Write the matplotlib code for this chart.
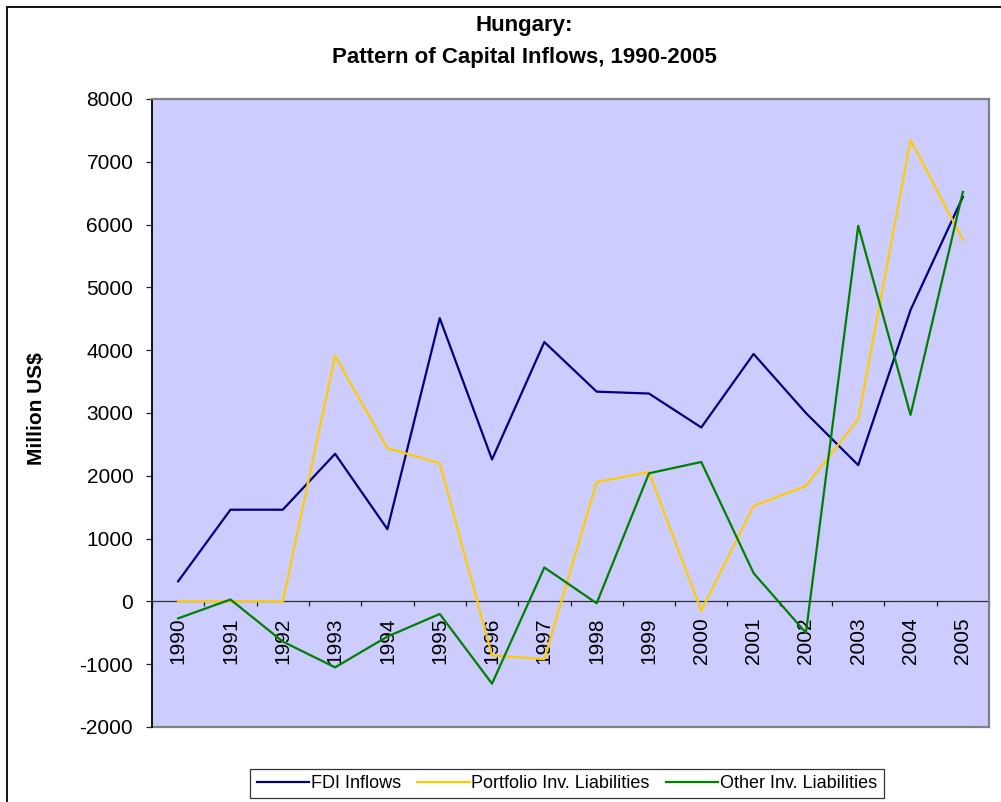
import numpy as np
import matplotlib
matplotlib.use('Agg')
import matplotlib.pyplot as plt
from matplotlib.patches import Rectangle

plt.rcParams['font.family'] = ['Liberation Sans', 'DejaVu Sans']

# values (million US$)
years = [str(y) for y in range(1990, 2006)]
fdi_inflows = [320, 1460, 1460, 2350, 1150, 4510, 2260, 4130,
               3340, 3310, 2770, 3940, 3000, 2170, 4640, 6440]
portfolio_liab = [0, 0, 0, 3910, 2440, 2200, -860, -920,
                  1900, 2060, -150, 1520, 1840, 2900, 7350, 5760]
other_liab = [-270, 30, -640, -1050, -560, -200, -1310, 540,
              -30, 2040, 2220, 450, -500, 5980, 2970, 6520]
series_names = ['FDI Inflows', 'Portfolio Inv. Liabilities', 'Other Inv. Liabilities']
series_colors = ['#000080', '#FFCC00', '#008000']
y_ticks = list(range(-2000, 8001, 1000))

W, H = 1001, 802
fig = plt.figure(figsize=(W / 100, H / 100), dpi=100)
fig.patch.set_facecolor('white')

# outer chart frame (only left and top edges visible)
fig.patches.append(Rectangle((7 / W, -0.5), 2, 1 - 7 / H + 0.5,
                             transform=fig.transFigure, fill=False,
                             edgecolor='black', lw=1.3))

left, right, top, bottom = 152, 989, 99, 727
ax = fig.add_axes([left / W, 1 - bottom / H, (right - left) / W, (bottom - top) / H])
ax.set_facecolor('#CCCCFF')

x = np.arange(len(years))
for vals, name, col in zip([fdi_inflows, portfolio_liab, other_liab], series_names, series_colors):
    ax.plot(x, vals, color=col, lw=1.6, label=name, zorder=3)

ax.set_xlim(-0.5, len(years) - 0.5)
ax.set_ylim(-2000, 8000)
ax.set_yticks(y_ticks)
ax.set_yticklabels([str(v) for v in y_ticks], fontsize=15)
ax.tick_params(axis='y', direction='out', length=4.5, width=0.9, color='#222222', pad=9)

# category axis crosses at zero
ax.spines['bottom'].set_position(('data', 0))
ax.spines['bottom'].set_color('#303030')
ax.spines['bottom'].set_linewidth(0.9)
ax.spines['bottom'].set_zorder(2)
ax.set_xticks(np.arange(-0.5, len(years), 1))
ax.set_xticklabels([])
ax.tick_params(axis='x', which='major', direction='out', length=3.8, width=0.9, color='#222222')
ax.set_xticks(x, minor=True)
ax.set_xticklabels(years, minor=True, rotation=90, fontsize=15, va='top', ha='center')
ax.tick_params(axis='x', which='minor', length=0, pad=11.5)

ax.spines['left'].set_color('black')
ax.spines['left'].set_linewidth(1.3)
for s in ['top', 'right']:
    ax.spines[s].set_color('#808080')
    ax.spines[s].set_linewidth(1.6)
ax.plot([0, 1], [0, 0], transform=ax.transAxes, color='#808080', lw=1.6, clip_on=False)

fig.text(0.036, 1 - 409 / H, 'Million US$', rotation=90, fontsize=15,
         fontweight='bold', ha='center', va='center')
fig.text(524 / W, 1 - 26 / H, 'Hungary:', fontsize=16, fontweight='bold',
         ha='center', va='center')
fig.text(524 / W, 1 - 57 / H, 'Pattern of Capital Inflows, 1990-2005', fontsize=16,
         fontweight='bold', ha='center', va='center')

leg = fig.legend(loc='center', bbox_to_anchor=(567 / W, 1 - 783.5 / H), ncol=3,
                 fontsize=13, frameon=True, fancybox=False, edgecolor='black',
                 handlelength=2.9, handletextpad=0.1, columnspacing=0.9,
                 borderpad=0.35, borderaxespad=0)
leg.get_frame().set_linewidth(0.9)
for line in leg.get_lines():
    line.set_linewidth(1.6)

fig.savefig('out.png', dpi=100)
